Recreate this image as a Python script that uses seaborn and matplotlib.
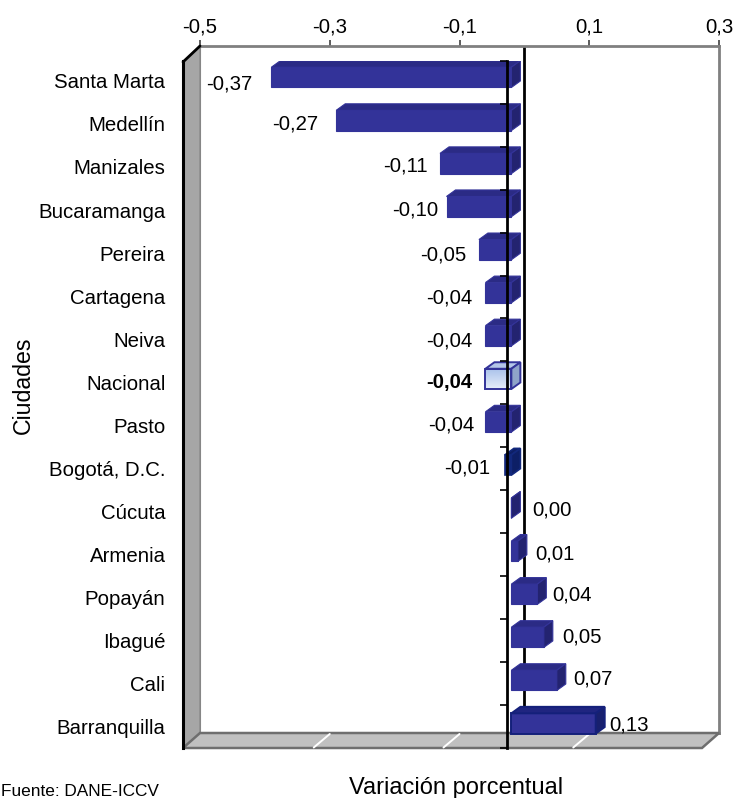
import numpy as np
import pandas as pd
import matplotlib.pyplot as plt
from matplotlib.patches import Polygon
from matplotlib.transforms import Affine2D
import seaborn as sns

sns.set_style("white")
plt.rcParams['font.family'] = ['Liberation Sans', 'DejaVu Sans']
plt.rcParams['text.color'] = 'black'
plt.rcParams['axes.labelcolor'] = 'black'
plt.rcParams['xtick.labelcolor'] = 'black'
plt.rcParams['ytick.labelcolor'] = 'black'

ciudades = ['Santa Marta', 'Medellín', 'Manizales', 'Bucaramanga', 'Pereira', 'Cartagena',
            'Neiva', 'Nacional', 'Pasto', 'Bogotá, D.C.', 'Cúcuta', 'Armenia', 'Popayán',
            'Ibagué', 'Cali', 'Barranquilla']
variacion = [-0.37, -0.27, -0.11, -0.10, -0.05, -0.04, -0.04, -0.04, -0.04, -0.01,
             0.00, 0.01, 0.04, 0.05, 0.07, 0.13]
top_ticks = [-0.5, -0.3, -0.1, 0.1, 0.3]

# label offsets from the bar end, in pixels
label_dx = [-19, -18, -12, -8, -12.5, -13, -13, -13, -11, -14.5, 21, 17.5, 15, 18.5, 16, 14]
label_dy = [-7, -4, -2, -3, -5, -5, -5, -4, -3, -3, -2, -3, -1, 0, 1, -2]

W, H = 733, 798
BAR = '#333399'
TOP = '#2b2b85'
SIDE = '#232370'
GRAY = '#808080'
FS = 14.7

def fmt(v):
    return '{:.2f}'.format(v).replace('.', ',')

def box(x0, x1, y0, y1):
    return [x0 / W, 1 - y1 / H, (x1 - x0) / W, (y1 - y0) / H]

fig = plt.figure(figsize=(W / 100, H / 100), dpi=100)
px = Affine2D().scale(1 / W, -1 / H).translate(0, 1) + fig.transFigure

# back wall, carries the value axis
ax_back = fig.add_axes(box(200, 719, 46, 733), zorder=0)
ax_back.set_xlim(-0.5, 0.3)
ax_back.set_ylim(0, 1)
ax_back.xaxis.tick_top()
ax_back.set_xticks(top_ticks, [fmt(t)[:-1] for t in top_ticks], fontsize=FS)
ax_back.tick_params(axis='x', length=4.5, width=1.2, color='#404040', pad=2, top=True, bottom=False)
ax_back.set_yticks([])
for s in ax_back.spines.values():
    s.set_color(GRAY)
    s.set_linewidth(2)
ax_back.spines['left'].set_linewidth(1.5)
ax_back.axvline(0, color='black', lw=2)

# side wall and floor
fig.add_artist(Polygon([(183, 62), (200, 46), (200, 733), (183, 748)], closed=True, transform=px,
                       fc='#a6a6a6', ec='#8a8a8a', lw=1, zorder=1))
fig.add_artist(Polygon([(183, 748), (200, 733), (719, 733), (702, 748)], closed=True, transform=px,
                       fc='#c0c0c0', ec='#6e6e6e', lw=1.8, zorder=1))
for t in top_ticks[1:-1]:
    xb = 200 + (t + 0.5) * 519 / 0.8
    fig.add_artist(plt.Line2D([xb, xb - 16], [734, 747.5], transform=px, color='white', lw=1.4, zorder=1))

# bars
df = pd.DataFrame({'ciudad': ciudades, 'variacion': variacion})
ax = fig.add_axes(box(187, 706, 61, 748), zorder=2)
sns.barplot(data=df, y='ciudad', x='variacion', color=BAR, saturation=1, width=0.47, ax=ax)
ax.patch.set_visible(False)
ax.set_xlim(-0.5, 0.3)
ylim = (15.57, -0.38)
ax.set_ylim(*ylim)
sns.despine(ax=ax, left=True, bottom=True)
ax.tick_params(axis='x', bottom=False, labelbottom=False)
ax.set_yticks(np.arange(len(ciudades)) + 0.08, ciudades, fontsize=FS)
ax.tick_params(axis='y', length=0, pad=15.5)
ax.set_ylabel('Ciudades', fontsize=16.7)
ax.yaxis.set_label_coords(35 / W, 1 - 385 / H, transform=fig.transFigure)
ax.set_xlabel('Variación porcentual', fontsize=17)
ax.xaxis.set_label_coords(456 / W, 1 - 777 / H, transform=fig.transFigure)

dx = 9 * 0.8 / 519
dy = 6.5 / 43.07
for i, (p, v) in enumerate(zip(ax.patches, variacion)):
    x0, x1 = min(0, v), max(0, v)
    yt, yb = p.get_y(), p.get_y() + p.get_height()
    face, top, side, edge, lw = BAR, TOP, SIDE, BAR, 0.8
    if ciudades[i] == 'Nacional':
        face, top, side, edge, lw = 'none', '#b4c6e8', '#8fa3c9', BAR, 1.4
    elif ciudades[i] == 'Bogotá, D.C.':
        face, top, side, edge, lw = '#12287c', '#0d1f66', '#0d1f66', '#12287c', 1.2
    elif ciudades[i] == 'Barranquilla':
        top, side, edge, lw = '#1f2580', '#18206e', '#14207a', 1.4
    p.set_facecolor(face)
    p.set_edgecolor(edge)
    p.set_linewidth(lw)
    p.set_zorder(1)
    ax.add_patch(Polygon([(x0, yt), (x1, yt), (x1 + dx, yt - dy), (x0 + dx, yt - dy)], closed=True,
                         fc=top, ec=edge, lw=lw))
    ax.add_patch(Polygon([(x1, yt), (x1, yb), (x1 + dx, yb - dy), (x1 + dx, yt - dy)], closed=True,
                         fc=side, ec=edge, lw=lw))
    if ciudades[i] == 'Nacional':
        grad = np.linspace(0, 1, 50).reshape(-1, 1)
        cmap = sns.blend_palette(['#a9c1ea', '#e6eefa'], as_cmap=True)
        ax.imshow(grad, extent=(x0, x1, yb, yt), cmap=cmap, aspect='auto', zorder=0.5)
    ax.annotate(fmt(v), xy=(v, i), xytext=(label_dx[i], label_dy[i]), textcoords='offset pixels',
                ha='right' if v < 0 else 'left', va='center', fontsize=FS, color='black',
                fontweight='bold' if ciudades[i] == 'Nacional' else 'normal')
ax.set_xlim(-0.5, 0.3)
ax.set_ylim(*ylim)

# front frame: left edge, zero line and its category ticks
ax_front = fig.add_axes(box(183, 702, 61, 748), zorder=3)
ax_front.patch.set_visible(False)
ax_front.set_xlim(-0.5, 0.3)
ax_front.set_ylim(*ylim)
ax_front.set_xticks([])
ax_front.yaxis.tick_right()
ax_front.set_yticks(np.arange(len(ciudades) + 1) - 0.44)
ax_front.set_yticklabels([])
ax_front.tick_params(axis='y', direction='in', length=5, width=1.2, color='black')
for name in ['top', 'bottom']:
    ax_front.spines[name].set_visible(False)
ax_front.spines['left'].set_color('black')
ax_front.spines['left'].set_linewidth(2.2)
ax_front.spines['right'].set_position(('data', 0))
ax_front.spines['right'].set_color('black')
ax_front.spines['right'].set_linewidth(2)
fig.add_artist(plt.Line2D([183, 200], [62, 46], transform=px, color='black', lw=2, zorder=4))

fig.text(1 / W, 1 - 791 / H, 'Fuente: DANE-ICCV', fontsize=12.4, ha='left', va='center')

fig.savefig('out.png', dpi=100)
